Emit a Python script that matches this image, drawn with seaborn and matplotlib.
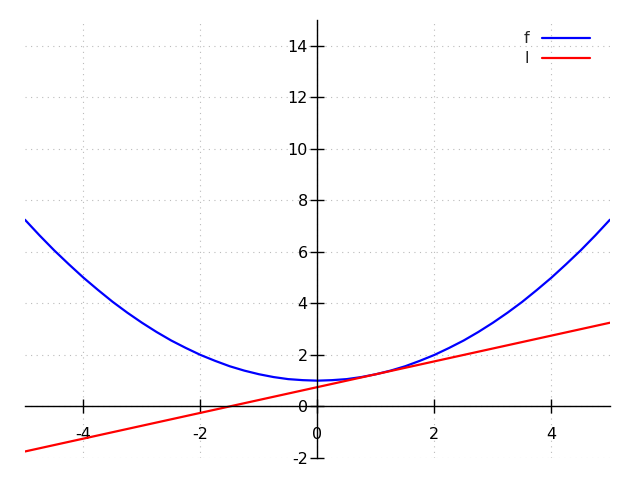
import matplotlib
matplotlib.use("Agg")
import matplotlib.pyplot as plt
import seaborn as sns

# values
x_vals = [-5.0, -4.75, -4.5, -4.25, -4.0, -3.75, -3.5, -3.25, -3.0, -2.75, -2.5,
          -2.25, -2.0, -1.75, -1.5, -1.25, -1.0, -0.75, -0.5, -0.25, 0.0,
          0.25, 0.5, 0.75, 1.0, 1.25, 1.5, 1.75, 2.0, 2.25, 2.5,
          2.75, 3.0, 3.25, 3.5, 3.75, 4.0, 4.25, 4.5, 4.75, 5.0]
f_vals = [7.25, 6.64, 6.06, 5.52, 5.0, 4.52, 4.06, 3.64, 3.25, 2.89, 2.56,
          2.27, 2.0, 1.77, 1.56, 1.39, 1.25, 1.14, 1.06, 1.02, 1.0,
          1.02, 1.06, 1.14, 1.25, 1.39, 1.56, 1.77, 2.0, 2.27, 2.56,
          2.89, 3.25, 3.64, 4.06, 4.52, 5.0, 5.52, 6.06, 6.64, 7.25]
l_x = [-5.0, 5.0]
l_vals = [-1.75, 3.25]

x_ticks = [-4, -2, 0, 2, 4]
y_ticks = [-2, 0, 2, 4, 6, 8, 10, 12, 14]

sns.set_style("white")
plt.rcParams['font.family'] = ['DejaVu Sans']
plt.rcParams['axes.unicode_minus'] = False

fig = plt.figure(figsize=(6.4, 4.8), dpi=100)
ax = fig.add_axes([0.039, 0.046, 0.914, 0.912])

sns.lineplot(x=x_vals, y=f_vals, ax=ax, color='#0000ff', linewidth=1.6, label='f')
sns.lineplot(x=l_x, y=l_vals, ax=ax, color='#ff0000', linewidth=1.6, label='l')

ax.set_xlim(-5, 5)
ax.set_ylim(-2, 15)
ax.set_xticks(x_ticks)
ax.set_yticks(y_ticks)
ax.tick_params(bottom=True, left=True, direction='inout', length=10, width=1,
               labelsize=11.5, colors='black')
ax.tick_params(axis='x', pad=10)
ax.tick_params(axis='y', pad=2)

ax.grid(True, color='#bbbbbb', linestyle=(0, (1, 4)), linewidth=0.8)

for side in ['top', 'right']:
    ax.spines[side].set_visible(False)
ax.spines['left'].set_position(('data', 0))
ax.spines['bottom'].set_position(('data', 0))
for side in ['left', 'bottom']:
    ax.spines[side].set_color('black')
    ax.spines[side].set_linewidth(1)

ax.legend(loc='upper right', bbox_to_anchor=(0.985, 1.0), frameon=False,
          markerfirst=False, fontsize=11.5, handlelength=3,
          borderaxespad=0.3, labelspacing=0.3)

fig.savefig('out.png', dpi=100)
